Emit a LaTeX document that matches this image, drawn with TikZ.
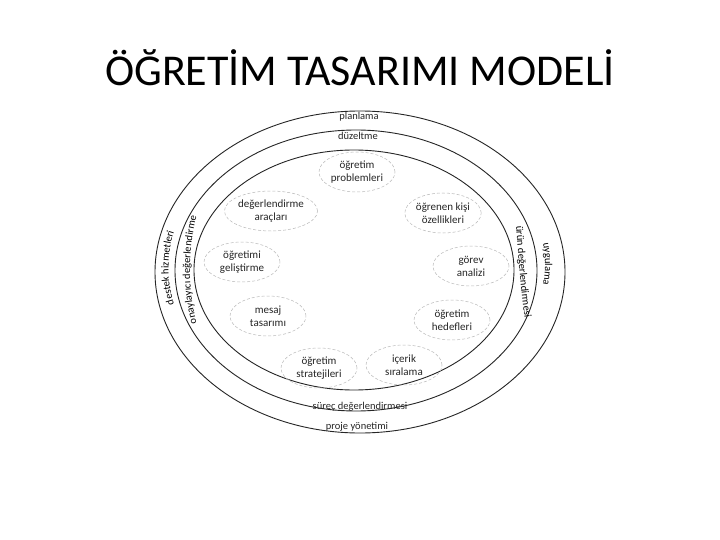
\documentclass[tikz,border=0pt]{standalone}
\usepackage{fontspec}
\setmainfont{Carlito}
\usetikzlibrary{shapes.geometric,decorations.text}
\newcommand{\ringfont}{\fontsize{10.5}{12}\selectfont}
\begin{document}
\begin{tikzpicture}[x=1pt,y=-1pt,
  ring/.style={draw=black!85, line width=0.9pt},
  topic/.style={ellipse, draw=gray!55, dash pattern=on 3pt off 2pt, line width=0.5pt,
    minimum width=76pt, minimum height=40pt, inner sep=0pt, align=center,
    font=\fontsize{11}{13}\selectfont, text=black!85},
  ringlabel/.style={font=\ringfont, text=black!85, inner sep=0pt},
  curved/.style={decorate, decoration={text along path, text align=center, text={|\ringfont|#1}}}
]
\fill[white] (0,0) rectangle (720,540);
\useasboundingbox (0,0) rectangle (720,540);
\node[anchor=base, font=\fontsize{44}{50}\selectfont] (title) at (360,86) {ÖĞRETİM TASARIMI MODELİ};

% rings
\draw[ring] (360,272) ellipse [x radius=205, y radius=161];
\draw[ring] (356,270.5) ellipse [x radius=181, y radius=140.5];
\draw[ring] (354,270) ellipse [x radius=160, y radius=120];

% ring labels
\node[ringlabel] (l1) at (359,117) {planlama};
\node[ringlabel] (l2) at (358,136) {düzeltme};
\node[ringlabel] (l3) at (360,407) {süreç değerlendirmesi};
\node[ringlabel] (l4) at (357,427) {proje yönetimi};

\begin{scope}[y=1pt]
\path[curved={destek hizmetleri}] ([shift={(358,-268)}]210:189.5 and 150) arc[start angle=210, end angle=150, x radius=189.5, y radius=150];
\path[curved={onaylayıcı değerlendirme}] ([shift={(356,-270)}]215:166 and 190) arc[start angle=215, end angle=145, x radius=166, y radius=190];
\path[curved={ürün değerlendirmesi}] (515,-212) .. controls (518,-250) and (520,-290) .. (527,-332);
\path[curved={uygulama}] ([shift={(356,-264)}]25:189 and 150) arc[start angle=25, end angle=-25, x radius=189, y radius=150];
\end{scope}

% topics
\node[topic] (p1) at (357,172) {öğretim\\problemleri};
\node[topic] (p2) at (443,213) {öğrenen kişi\\özellikleri};
\node[topic] (p3) at (471,266) {görev\\analizi};
\node[topic] (p4) at (452,320) {öğretim\\hedefleri};
\node[topic] (p5) at (404,365) {içerik\\sıralama};
\node[topic] (p6) at (319,368) {öğretim\\stratejileri};
\node[topic] (p7) at (268,316) {mesaj\\tasarımı};
\node[topic] (p8) at (242,262) {öğretimi\\geliştirme};
\node[topic] (p9) at (271,211) {değerlendirme\\araçları};
\end{tikzpicture}
\end{document}
